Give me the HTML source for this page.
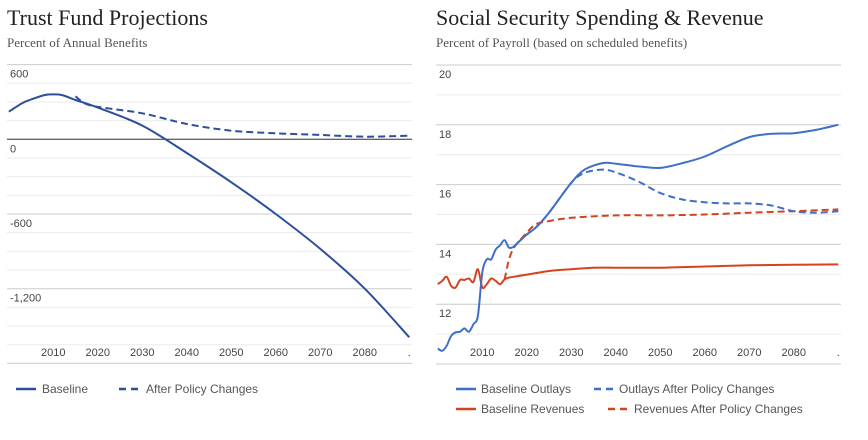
<!DOCTYPE html>
<html><head><meta charset="utf-8"><style>
body{margin:0;background:#fff;width:868px;height:440px;overflow:hidden;font-family:"Liberation Sans",sans-serif}
svg{position:absolute;left:0;top:0}
</style></head><body>
<svg id="c" width="868" height="440">
<text x="7" y="25" font-family="Liberation Serif,serif" font-size="22" fill="#222">Trust Fund Projections</text>
<text x="7" y="47" font-family="Liberation Serif,serif" font-size="13" fill="#555">Percent of Annual Benefits</text>
<text x="436" y="25" font-family="Liberation Serif,serif" font-size="22" fill="#222">Social Security Spending &amp; Revenue</text>
<text x="436" y="47" font-family="Liberation Serif,serif" font-size="13" fill="#555">Percent of Payroll (based on scheduled benefits)</text>
</svg>
<script>
const xTicks=[2010,2020,2030,2040,2050,2060,2070,2080];
const lYears=[2000,2003,2005,2008,2010,2012,2015,2020,2030,2040,2050,2060,2070,2080,2090];
const lBase=[222,290,320,355,361,355,316,255,110,-110,-345,-600,-880,-1200,-1590];
const lDashYears=[2015,2017,2020,2030,2040,2050,2060,2070,2080,2090];
const lDash=[345,290,260,209,123,69,48,35,21,29];
const lTicks=[600,0,-600,-1200];
const lTickLabels=["600","0","-600","-1,200"];
const rTicks=[20,18,16,14,12];
const boYears=[2000,2001,2002,2003,2004,2005,2006,2007,2008,2009,2010,2011,2012,2013,2014,2015,2016,2017,2018,2020,2022,2025,2030,2033,2037,2040,2045,2050,2055,2060,2065,2070,2075,2080,2085,2090];
const boVals=[10.52,10.44,10.61,10.94,11.06,11.08,11.19,11.08,11.33,11.61,13.06,13.5,13.5,13.83,13.97,14.14,13.89,13.92,14.06,14.33,14.56,15.06,16.06,16.5,16.72,16.7,16.61,16.56,16.72,16.94,17.28,17.59,17.7,17.72,17.83,18.0];
const doYears=[2018,2020,2022,2025,2030,2033,2037,2040,2045,2050,2055,2060,2065,2070,2075,2080,2085,2090];
const doVals=[14.06,14.33,14.56,15.06,16.06,16.39,16.5,16.41,16.11,15.72,15.5,15.41,15.37,15.37,15.3,15.11,15.06,15.11];
const brYears=[2000,2001,2002,2003,2004,2005,2006,2007,2008,2009,2010,2011,2012,2013,2014,2015,2016,2018,2020,2025,2030,2035,2040,2050,2060,2070,2080,2090];
const brVals=[12.67,12.78,12.92,12.61,12.56,12.81,12.81,12.86,12.74,13.17,12.56,12.67,12.86,12.78,12.67,12.83,12.89,12.94,12.99,13.11,13.17,13.22,13.22,13.22,13.26,13.3,13.32,13.33];
const drYears=[2015,2016,2017,2018,2020,2022,2025,2030,2040,2050,2060,2070,2080,2090];
const drVals=[12.83,13.5,13.86,14.06,14.39,14.67,14.78,14.89,14.97,14.97,15.0,15.06,15.11,15.17];

const NS="http://www.w3.org/2000/svg",svg=document.getElementById('c');
function mk(t,a,p){const e=document.createElementNS(NS,t);for(const k in a)e.setAttribute(k,a[k]);(p||svg).appendChild(e);return e;}
function txt(x,y,s,a){const e=mk('text',Object.assign({x:x,y:y,'font-size':11,fill:'#444'},a||{}));e.textContent=s;return e;}
const lx=y=>53.3+(y-2010)*4.45, ly=v=>139.3-v*0.1245;
const rx=y=>482.3+(y-2010)*4.45, ry=v=>65+(20-v)*29.9;
for(let i=0;i<17;i++){const v=600-i*150;const g=mk('line',{x1:7,x2:412,y1:ly(v),y2:ly(v),stroke:v%600==0&&v!=0?'#ccc':'#ebebeb','stroke-width':1});

}
const z=mk('line',{x1:7,x2:412,y1:ly(0),y2:ly(0),stroke:'#333','stroke-width':1});


lTicks.forEach((v,i)=>{const t=txt(10,ly(v)+13,lTickLabels[i]);

});
for(let i=0;i<11;i++){const v=20-i;const g=mk('line',{x1:436,x2:841,y1:ry(v),y2:ry(v),stroke:v%2==0?'#ccc':'#ebebeb','stroke-width':1});

}
rTicks.forEach(v=>{const t=txt(439,ry(v)+13,String(v));

});
xTicks.forEach(y=>{const a=txt(lx(y),356,String(y),{'text-anchor':'middle'});


const b=txt(rx(y),356,String(y),{'text-anchor':'middle'});

});
txt(lx(2090),356,'.',{'text-anchor':'middle'});txt(rx(2090),356,'.',{'text-anchor':'middle'});
function line(xs,vs,fx,fy,col,dash,name){
const P=xs.map((x,i)=>[fx(x),fy(vs[i])]);
let d='M'+P[0][0].toFixed(1)+','+P[0][1].toFixed(1);
for(let i=0;i<P.length-1;i++){const p0=P[Math.max(0,i-1)],p1=P[i],p2=P[i+1],p3=P[Math.min(P.length-1,i+2)];
const t=0.16;
const c1=[p1[0]+(p2[0]-p0[0])*t,p1[1]+(p2[1]-p0[1])*t],c2=[p2[0]-(p3[0]-p1[0])*t,p2[1]-(p3[1]-p1[1])*t];
d+='C'+c1[0].toFixed(1)+','+c1[1].toFixed(1)+' '+c2[0].toFixed(1)+','+c2[1].toFixed(1)+' '+p2[0].toFixed(1)+','+p2[1].toFixed(1);}
const p=mk('path',{d:d,fill:'none',stroke:col,'stroke-width':2,'stroke-dasharray':dash?'7,4':'none','stroke-linejoin':'round'});

}
const dark='#2d4f9b',blue='#3f6fc9',red='#d4431f';
line(lDashYears,lDash,lx,ly,dark,true,'after-policy-line');
line(lYears,lBase,lx,ly,dark,false,'baseline-line');
line(drYears,drVals,rx,ry,red,true,'revenues-after-policy-line');
line(brYears,brVals,rx,ry,red,false,'baseline-revenues-line');
line(doYears,doVals,rx,ry,blue,true,'outlays-after-policy-line');
line(boYears,boVals,rx,ry,blue,false,'baseline-outlays-line');
function leg(x,y,col,dash,label,tx,name){const l=mk('line',{x1:x,x2:x+20,y1:y,y2:y,stroke:col,'stroke-width':2.5,'stroke-dasharray':dash?'7,5':'none'});


const t=txt(tx,y+4,label,{'font-size':12,fill:'#555'});

}
leg(16,389,dark,false,'Baseline',42,'legend-baseline');
leg(119,389,dark,true,'After Policy Changes',146,'legend-after-policy');
leg(456,389,blue,false,'Baseline Outlays',481,'legend-baseline-outlays');
leg(594,389,blue,true,'Outlays After Policy Changes',619,'legend-outlays-after-policy');
leg(456,409,red,false,'Baseline Revenues',481,'legend-baseline-revenues');
leg(608,409,red,true,'Revenues After Policy Changes',634,'legend-revenues-after-policy');
</script>
</body></html>
